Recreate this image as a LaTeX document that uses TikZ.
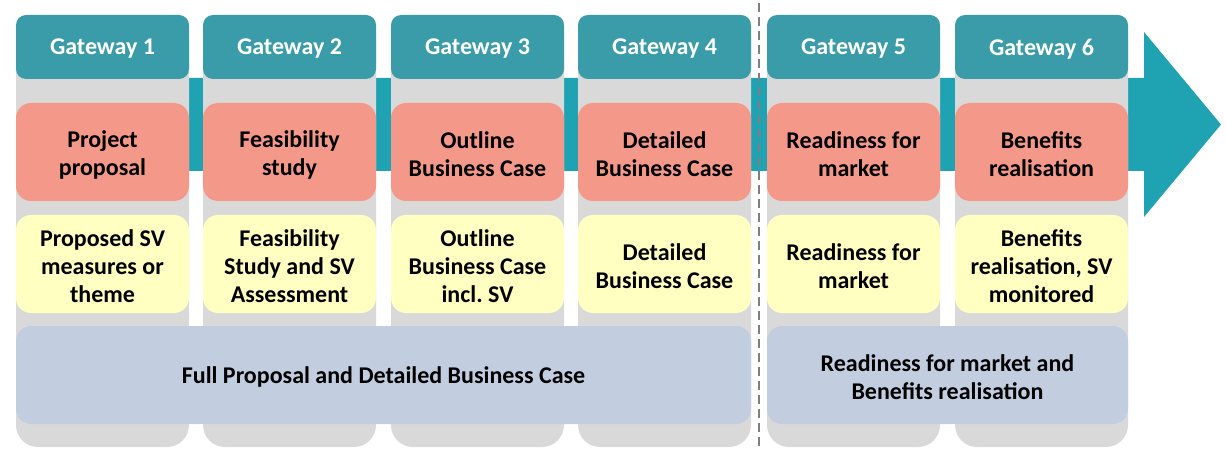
\documentclass[tikz,border=0pt]{standalone}
\usepackage{fontspec}
\setmainfont{Carlito}
\frenchspacing
\definecolor{gatec}{HTML}{3A9CA8}
\definecolor{bandc}{HTML}{1FA2B2}
\definecolor{colc}{HTML}{D9D9D9}
\definecolor{salc}{HTML}{F4998A}
\definecolor{yelc}{HTML}{FFFFC2}
\definecolor{bluc}{HTML}{C3CDE0}
\definecolor{dashc}{HTML}{7F7F7F}
\tikzset{
  every node/.style={inner sep=0pt, outer sep=0pt, align=center,
    font=\fontsize{24}{28}\selectfont\bfseries},
  colbox/.style={fill=colc, rounded corners=22pt, minimum width=173pt, minimum height=432pt},
  gatebox/.style={fill=gatec, rounded corners=10pt, minimum width=173pt, minimum height=64pt},
  salbox/.style={fill=salc, rounded corners=15pt, minimum width=173pt, minimum height=98pt},
  yelbox/.style={fill=yelc, rounded corners=15pt, minimum width=173pt, minimum height=98pt},
  blubox/.style={fill=bluc, rounded corners=15pt, minimum height=98pt},
  wtxt/.style={text=white},
  btxt/.style={text=black},
  dashline/.style={draw=dashc, line width=2.3pt, dash pattern=on 9pt off 5pt},
}
\begin{document}
\begin{tikzpicture}[x=1pt,y=-1pt]
\useasboundingbox (0,0) rectangle (1226,449);
% arrow band
\fill[bandc] (16,78) -- (1144,78) -- (1144,32) -- (1221,124.5) -- (1144,217) -- (1144,171) -- (16,171) -- cycle;
% columns
\foreach \i/\x in {1/102.5,2/289.5,3/477.5,4/664.5,5/853.5,6/1041.5}{
  \node[colbox] (col\i) at (\x,231) {};
}
% dashed divider
\coordinate (dtop) at (759,3);
\coordinate (dbot) at (759,449);
\draw[dashline] (dtop) -- (dbot);
% boxes
\foreach \i/\x in {1/102.5,2/289.5,3/477.5,4/664.5,5/853.5,6/1041.5}{
  \node[gatebox] (g\i) at (\x,47) {};
  \node[salbox] (s\i) at (\x,152) {};
  \node[yelbox] (y\i) at (\x,264) {};
}
\node[blubox, minimum width=735pt] (b1) at (383.5,375) {};
\node[blubox, minimum width=361pt] (b2) at (947.5,375) {};
% texts
\foreach \i in {1,...,6}{
  \node[wtxt] (gt\i) at ([yshift=-2pt]g\i.center) {Gateway \i};
}
\node[btxt] (st1) at ([yshift=-2.5pt]s1.center) {Project\\proposal};
\node[btxt] (st2) at ([yshift=-2.5pt]s2.center) {Feasibility\\study};
\node[btxt] (st3) at ([yshift=-2.5pt]s3.center) {Outline\\Business Case};
\node[btxt] (st4) at ([yshift=-2.5pt]s4.center) {Detailed\\Business Case};
\node[btxt] (st5) at ([yshift=-2.5pt]s5.center) {Readiness for\\market};
\node[btxt] (st6) at ([yshift=-2.5pt]s6.center) {Benefits\\realisation};
\node[btxt] (yt1) at ([yshift=-2pt]y1.center) {Proposed SV\\measures or\\theme};
\node[btxt] (yt2) at ([yshift=-2pt]y2.center) {Feasibility\\Study and SV\\Assessment};
\node[btxt] (yt3) at ([yshift=-2pt]y3.center) {Outline\\Business Case\\incl. SV};
\node[btxt] (yt4) at ([yshift=-2.5pt]y4.center) {Detailed\\Business Case};
\node[btxt] (yt5) at ([yshift=-2.5pt]y5.center) {Readiness for\\market};
\node[btxt] (yt6) at ([yshift=-2pt]y6.center) {Benefits\\realisation, SV\\monitored};
\node[btxt] (bt1) at ([yshift=-2pt]b1.center) {Full Proposal and Detailed Business Case};
\node[btxt] (bt2) at ([yshift=-2.5pt]b2.center) {Readiness for market and\\Benefits realisation};
\end{tikzpicture}
\end{document}
